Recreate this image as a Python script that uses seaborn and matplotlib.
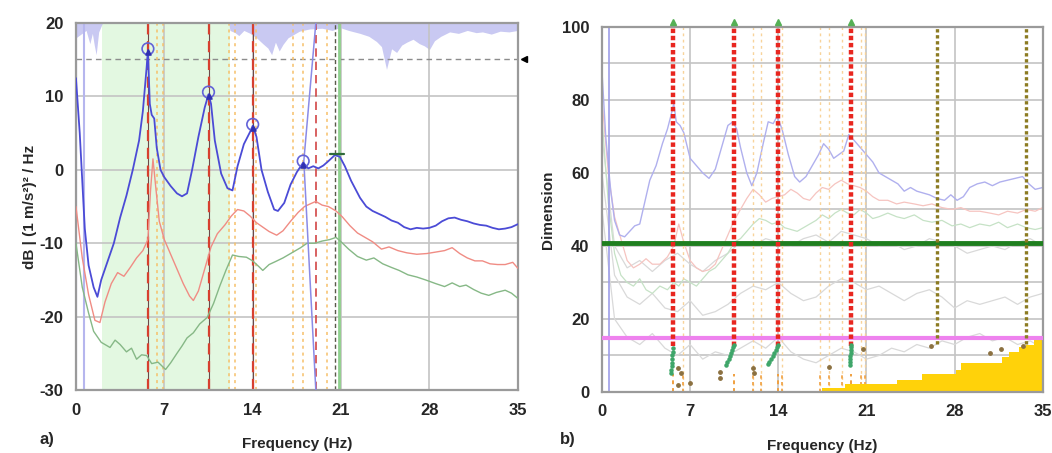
import numpy                 as np
import pandas                as pd
import seaborn               as sns
import matplotlib.pyplot     as plt


# ---------------- panel a) spectra (dB) ----------------
blue_a_freq = [0.0, 0.3, 0.7, 1.0, 1.4, 1.7, 2.0, 2.5, 3.0, 3.5, 4.0, 4.5, 5.0, 5.3, 5.6, 5.7,
               5.85, 6.0, 6.2, 6.4, 6.7, 7.0, 7.5, 8.0, 8.4, 8.8, 9.2, 9.7, 10.2, 10.5, 10.7,
               11.0, 11.5, 12.0, 12.4, 12.8, 13.3, 13.8, 14.0, 14.3, 14.7, 15.2, 15.7, 16.0,
               16.5, 17.0, 17.5, 18.0, 18.4, 18.8, 19.2, 19.6, 20.0, 20.5, 20.9, 21.3, 21.8,
               22.5, 23.0, 23.5, 24.0, 24.5, 25.0, 25.5, 26.0, 26.5, 27.0, 27.5, 28.0, 28.5,
               29.0, 29.5, 30.0, 30.5, 31.0, 31.5, 32.0, 32.5, 33.0, 33.5, 34.0, 34.5, 35.0]
blue_a_db   = [12.5, 5.0, -8.0, -13.0, -16.0, -17.3, -15.0, -12.5, -10.0, -6.5, -3.5, 0.0, 4.0,
               8.0, 14.0, 16.3, 9.0, 7.5, 7.0, 3.0, 0.0, -1.0, -2.2, -3.2, -3.6, -3.2, 0.0, 4.5,
               8.5, 10.3, 9.0, 4.0, -0.5, -2.5, -2.8, 0.5, 3.5, 5.2, 6.0, 4.5, 0.0, -3.0, -5.4,
               -5.6, -4.5, -2.0, -0.3, 1.0, 0.2, 0.5, 0.2, 0.6, 1.2, 2.0, 1.8, 0.5, -1.5, -3.8,
               -5.0, -5.6, -6.0, -6.4, -6.9, -7.2, -7.8, -8.1, -7.9, -8.0, -7.9, -7.6, -7.0,
               -6.6, -6.5, -6.8, -7.0, -7.3, -7.5, -7.6, -7.9, -8.1, -8.0, -7.8, -7.4]

red_a_freq  = [0.0, 0.5, 1.0, 1.5, 1.9, 2.3, 2.8, 3.3, 3.8, 4.3, 4.8, 5.3, 5.7, 5.9, 6.1, 6.3,
               6.6, 7.0, 7.5, 8.0, 8.5, 9.0, 9.3, 9.7, 10.2, 10.7, 11.2, 11.8, 12.3, 12.8, 13.3,
               13.8, 14.3, 14.8, 15.3, 15.9, 16.4, 17.0, 17.6, 18.1, 18.6, 19.0, 19.5, 20.0,
               20.6, 21.1, 21.7, 22.3, 22.9, 23.5, 24.2, 24.8, 25.5, 26.2, 27.0, 27.8, 28.5,
               29.2, 29.8, 30.4, 31.0, 31.6, 32.2, 32.8, 33.4, 34.0, 34.6, 35.0]
red_a_db    = [-5.0, -12.0, -17.0, -20.5, -20.8, -18.0, -15.5, -14.0, -14.5, -13.3, -12.0,
               -11.0, -9.5, -3.0, 1.5, -2.0, -7.0, -9.5, -11.5, -13.5, -15.5, -17.2, -17.8,
               -16.5, -13.5, -10.5, -8.7, -7.5, -6.3, -5.4, -5.6, -6.3, -7.2, -7.8, -8.4, -8.9,
               -8.3, -7.0, -5.8, -5.0, -4.6, -4.3, -4.8, -5.0, -5.6, -6.4, -7.6, -8.6, -9.2,
               -9.8, -10.8, -10.5, -11.0, -11.3, -11.5, -11.4, -11.2, -11.0, -10.6, -11.4,
               -12.0, -12.4, -12.4, -12.8, -12.9, -12.9, -12.6, -13.4]

green_a_freq = [0.0, 0.5, 1.0, 1.4, 2.0, 2.7, 3.1, 3.5, 4.0, 4.4, 4.8, 5.2, 5.6, 6.0, 6.5, 7.1,
                7.5, 8.0, 8.4, 8.8, 9.3, 9.8, 10.4, 10.9, 11.4, 11.9, 12.4, 12.9, 13.5, 14.0,
                14.5, 14.8, 15.3, 15.8, 16.4, 17.2, 17.8, 18.3, 18.9, 19.5, 20.1, 20.6, 21.0,
                21.6, 22.3, 23.0, 23.6, 24.3, 25.0, 25.6, 26.3, 27.0, 27.7, 28.5, 29.2, 29.8,
                30.4, 30.9, 31.5, 32.1, 32.7, 33.3, 34.0, 34.5, 35.0]
green_a_db   = [-10.0, -16.0, -19.5, -22.0, -23.5, -24.2, -23.2, -23.8, -24.8, -24.3, -25.8,
                -25.2, -25.3, -26.4, -26.2, -27.2, -26.3, -25.0, -24.0, -22.9, -22.2, -21.0,
                -20.1, -18.2, -15.8, -13.6, -11.6, -11.8, -11.9, -12.4, -13.2, -13.7, -12.9,
                -12.5, -12.0, -11.2, -10.6, -10.0, -10.0, -9.7, -9.5, -9.2, -9.8, -10.8, -11.8,
                -12.3, -12.0, -12.8, -13.3, -13.7, -14.3, -14.6, -15.0, -15.5, -15.9, -15.4,
                -15.9, -15.7, -16.3, -16.8, -17.1, -16.7, -16.4, -16.8, -17.5]

# lavender band hanging from the top edge
top_freq = [0.0, 0.8, 1.1, 1.3, 1.45, 1.6, 1.8, 2.1, 12.1, 12.2, 12.6, 12.9, 13.3, 13.8, 14.3,
            14.8, 15.2, 15.5, 15.8, 16.1, 16.4, 16.8, 17.2, 17.7, 18.5, 19.5, 20.3, 20.9, 21.6,
            22.5, 23.2, 23.8, 24.2, 24.6, 25.0, 25.4, 25.8, 26.2, 26.7, 27.2, 27.6, 28.0, 28.4,
            28.9, 29.6, 30.3, 31.0, 31.7, 32.2, 32.9, 33.6, 34.3, 35.0]
top_db   = [18.0, 19.0, 17.2, 18.6, 17.0, 15.7, 18.8, 20.0, 20.0, 19.0, 18.7, 18.3, 19.0, 18.6,
            18.0, 17.2, 16.6, 15.7, 17.4, 16.2, 17.1, 18.0, 18.4, 18.9, 19.2, 19.3, 19.0, 19.4,
            19.0, 18.6, 18.2, 17.5, 16.8, 13.7, 16.5, 16.0, 17.0, 17.4, 17.8, 17.2, 16.9, 16.4,
            17.6, 18.2, 18.8, 18.6, 19.0, 18.7, 18.8, 18.5, 18.9, 18.8, 19.0]

peak_freq  = [5.7, 10.5, 14.0, 18.0]
peak_db    = [16.5, 10.6, 6.2, 1.2]
mode_lines_a   = [5.7, 10.5, 14.0]
orange_lines_a = [6.4, 6.9, 12.1, 12.6, 14.3, 17.2, 18.0, 19.9, 20.9]
green_band     = (2.1, 12.2)
threshold_db   = 15.1

# ---------------- panel b) stabilisation diagram ----------------
blue_b_freq = [0.0, 0.3, 0.7, 1.0, 1.4, 1.8, 2.2, 2.6, 3.0, 3.4, 3.8, 4.3, 4.8, 5.2, 5.5, 5.7,
               5.9, 6.2, 6.5, 7.0, 7.5, 8.0, 8.5, 9.0, 9.5, 10.0, 10.4, 10.7, 11.0, 11.5, 11.9,
               12.3, 12.8, 13.2, 13.6, 13.9, 14.3, 14.8, 15.3, 15.7, 16.2, 16.7, 17.2, 17.6,
               18.0, 18.4, 18.8, 19.2, 19.6, 20.0, 20.5, 21.0, 21.5, 22.0, 22.5, 23.0, 23.5,
               24.0, 24.5, 25.0, 25.5, 26.0, 26.6, 27.2, 27.7, 28.2, 28.7, 29.2, 29.8, 30.4,
               31.0, 31.6, 32.2, 32.8, 33.4, 33.9, 34.4, 35.0]
blue_b_dim  = [88, 70, 55, 47, 43, 42.5, 44, 45.5, 46, 52, 58, 62, 68, 72, 76, 79, 74, 73, 71,
               64, 62, 60, 58.5, 61, 67, 73, 74, 72, 67, 60, 56.5, 60, 68, 74, 73.5, 75.5, 72,
               65, 59, 57.5, 59, 62, 65, 68, 66.5, 64, 65, 66, 70.5, 69, 67, 65, 63, 60, 59, 58,
               57, 55, 56, 55, 54.5, 54, 53, 52.5, 54, 52.5, 53.5, 56, 57, 57.5, 56.5, 57.5, 58,
               58.5, 59, 57, 55.5, 56]

fb_freq   = [0.0, 0.5, 1.0, 1.5, 2.0, 2.5, 3.0, 3.5, 4.0, 4.6, 5.2, 5.7, 6.1, 6.5, 7.0, 7.5,
             8.0, 8.5, 9.0, 9.5, 10.0, 10.5, 11.0, 11.5, 12.0, 12.5, 13.0, 13.5, 14.0, 14.5,
             15.0, 15.5, 16.0, 16.5, 17.0, 17.5, 18.0, 18.5, 19.0, 19.5, 20.0, 20.5, 21.0,
             21.5, 22.0, 22.7, 23.4, 24.0, 24.8, 25.5, 26.2, 27.0, 27.8, 28.5, 29.2, 30.0,
             30.8, 31.5, 32.2, 33.0, 33.7, 34.4, 35.0]
red_b_dim   = [80, 60, 48, 42, 36, 34, 35, 36.5, 35, 35, 37, 40, 46, 41, 36, 34, 33, 33.5, 35,
               39, 43, 47, 50, 53, 55.5, 54, 52, 53, 53.5, 54, 55.5, 54.5, 53, 52.5, 54.5, 56,
               55.5, 57, 58, 57, 56.5, 56, 55, 53.5, 52.5, 52.5, 51.5, 52, 51.5, 51, 51.5, 50.5,
               50, 50.5, 49.5, 49.5, 49, 48.5, 49.5, 49, 50, 49.5, 50.5]
green_b_dim = [75, 52, 38, 32, 30, 29, 31, 28, 27, 29, 28, 30, 29, 31, 30, 29, 31, 33, 34, 36,
               38, 41, 42, 44, 46, 47.5, 47, 46, 46.5, 45, 44.5, 44, 45, 46, 47, 48.5, 47.5, 49,
               50, 49, 48.5, 50, 49, 47.5, 48, 49, 48, 47.5, 48.5, 47, 46.5, 47, 45.5, 46, 45,
               46, 45.5, 46.5, 45, 46, 45, 44.5, 45]

grey_freq = [0, 1, 2, 3, 4, 5, 6, 7, 8, 9, 10, 11, 12, 13, 14, 15, 16, 17, 18, 19, 20, 21, 22,
             23, 24, 25, 26, 27, 28, 29, 30, 31, 32, 33, 34, 35]
grey1_dim = [70, 40, 34, 36, 33, 36, 38, 35, 33, 36, 38, 41, 40, 42, 41, 40, 42, 43, 41, 44,
             43, 42, 40, 41, 39, 40, 42, 41, 40, 38, 39, 40, 39, 41, 42, 40]
grey2_dim = [60, 32, 26, 24, 27, 23, 22, 25, 21, 22, 24, 27, 29, 28, 30, 27, 25, 26, 29, 31,
             30, 28, 29, 27, 25, 27, 28, 26, 23, 25, 24, 25, 26, 24, 26, 27]
grey3_dim = [50, 20, 15, 13, 16, 12, 10, 13, 9, 11, 10, 12, 14, 12, 15, 11, 9, 8, 10, 12, 11,
             9, 10, 12, 11, 13, 12, 14, 13, 15, 16, 14, 15, 13, 14, 12]

stable_freq    = [5.63, 10.46, 14.0, 19.8]
olive_freq     = [26.6, 33.7]
orange_lines_b = [6.4, 12.0, 12.6, 14.3, 17.3, 18.0, 19.1, 20.6, 20.9]
green_dim_line   = 40.8
magenta_dim_line = 14.7

trail_x = [5.63, 5.61, 5.60, 5.58, 5.56, 5.54, 5.52, 5.50,
           10.46, 10.40, 10.33, 10.25, 10.15, 10.05, 9.95, 9.85,
           14.0, 13.9, 13.8, 13.68, 13.55, 13.42, 13.3, 13.15,
           19.8, 19.78, 19.76, 19.74, 19.72, 19.70, 19.68, 19.66]
trail_y = [12.0, 11.0, 10.0, 9.0, 8.0, 7.0, 6.0, 5.2,
           13.0, 12.2, 11.4, 10.6, 9.8, 9.0, 8.2, 7.4,
           13.0, 12.2, 11.4, 10.6, 9.8, 9.0, 8.2, 7.7,
           13.0, 12.2, 11.4, 10.6, 9.8, 9.0, 8.2, 7.4]

dots_x = [6.0, 6.3, 6.0, 7.0, 9.4, 9.4, 12.0, 12.1, 18.0, 20.7, 26.1, 30.8, 31.7, 33.4]
dots_y = [6.5, 5.2, 1.9, 2.5, 5.5, 3.8, 6.6, 5.2, 6.9, 11.8, 12.6, 10.6, 11.8, 12.6]

gold_freq  = [17.5, 19.3, 23.4, 25.4, 28.1, 28.5, 31.8, 32.3, 33.1, 33.7, 34.3, 35.0]
gold_level = [1.0, 2.2, 3.2, 4.9, 6.0, 7.9, 9.6, 11.0, 12.3, 13.0, 14.2, 14.5]

freq_ticks = [0, 7, 14, 21, 28, 35]


sns.set_theme(style="white")
plt.rcParams['font.family'] = ['Liberation Sans', 'DejaVu Sans']
plt.rcParams['axes.unicode_minus'] = False

fig = plt.figure(figsize=(10.52, 4.53), dpi=100)
ax_a = fig.add_axes([0.0722, 0.139, 0.420, 0.810])
ax_b = fig.add_axes([0.5722, 0.1347, 0.419, 0.806])

GRID = '#c4c4c4'


def style_axes(ax):
    for s in ax.spines.values():
        s.set_color('#9a9a9a')
        s.set_linewidth(1.6)
    ax.tick_params(length=0, labelsize=12, pad=9)
    for lab in ax.get_xticklabels() + ax.get_yticklabels():
        lab.set_fontweight('bold')
    ax.set_xlabel('Frequency (Hz)', fontsize=11, fontweight='bold', labelpad=14)
    ax.set_axisbelow(True)


# ================= a) =================
ax = ax_a
ax.set_xlim(0, 35)
ax.set_ylim(-30, 20)
ax.axvspan(*green_band, color='#e3f8e1', zorder=0, lw=0)
ax.fill_between(top_freq, top_db, 20, color='#c9c9f2', lw=0, zorder=0.6)
for v in [7, 14, 21, 28]:
    ax.axvline(v, color=GRID, lw=1.2, zorder=0.7)
for h in [10, 0, -10, -20]:
    ax.axhline(h, color=GRID, lw=1.2, zorder=0.7)

ax.axhline(threshold_db, color='#8c8c8c', lw=1, ls=(0, (4, 3)), zorder=1)
ax.plot(35.5, threshold_db, marker='<', color='black', ms=5, clip_on=False)

for f in orange_lines_a:
    ax.axvline(f, color='#f6c06a', lw=1.1, ls=(0, (2, 2.5)), zorder=1)
ax.axvline(0.0, color='#8f8fd8', lw=1.5, zorder=1.5)
ax.axvline(0.6, color='#b6b6ee', lw=1.5, zorder=1.5)
for f in mode_lines_a:
    ax.axvline(f, color='#6b4a4a', lw=0.8, zorder=2)
    ax.axvline(f, color='#d7402f', lw=1.6, ls=(0, (5, 3)), zorder=2.1)
ax.axvline(19.0, color='#d24646', lw=1.2, ls=(0, (5, 3)), zorder=2)
ax.axvline(20.55, color='#5a5a4a', lw=1.0, ls=(0, (3, 2)), zorder=2)
ax.axvline(20.85, color='#8fd08f', lw=2.0, zorder=2)

sns.lineplot(x=green_a_freq, y=green_a_db, ax=ax, color='#86b886', lw=1.0, zorder=3)
sns.lineplot(x=red_a_freq, y=red_a_db, ax=ax, color='#f08c84', lw=1.0, zorder=3)
sns.lineplot(x=blue_a_freq, y=blue_a_db, ax=ax, color='#4b4bd6', lw=1.3, zorder=4)
ax.plot([19.0, 18.05, 19.0], [20, 1.2, -30], color='#8a8ae6', lw=1.1, zorder=3.5)

ax.scatter(peak_freq, peak_db, s=70, facecolors='none', edgecolors='#6262d8', lw=1.2, zorder=5)
ax.scatter(peak_freq, [p - 0.5 for p in peak_db], s=14, marker='^', color='#3030b0', zorder=5)
ax.plot([20.1, 21.2], [2.1, 2.1], color='#2f6b3a', lw=1.6, zorder=5)

ax.set_xticks(freq_ticks)
ax.set_yticks([-30, -20, -10, 0, 10, 20])
ax.set_ylabel('dB | (1 m/s²)² / Hz', fontsize=11, fontweight='bold', labelpad=2)
style_axes(ax)

# ================= b) =================
ax = ax_b
ax.set_xlim(0, 35)
ax.set_ylim(0, 100)
for v in [7, 14, 21, 28]:
    ax.axvline(v, color=GRID, lw=1.2, zorder=0.7)
for h in range(10, 100, 10):
    ax.axhline(h, color=GRID, lw=1.2, zorder=0.7)

for g in [grey1_dim, grey2_dim, grey3_dim]:
    sns.lineplot(x=grey_freq, y=g, ax=ax, color='#d9d9d9', lw=0.9, zorder=1)
sns.lineplot(x=fb_freq, y=green_b_dim, ax=ax, color='#c6e2c6', lw=0.9, zorder=1.2)
sns.lineplot(x=fb_freq, y=red_b_dim, ax=ax, color='#f6c4c0', lw=0.9, zorder=1.2)
sns.lineplot(x=blue_b_freq, y=blue_b_dim, ax=ax, color='#b0b0ee', lw=1.0, zorder=1.3)
ax.axvline(0.55, color='#9d9de8', lw=1.2, zorder=1.3)

for f in orange_lines_b:
    ax.axvline(f, color='#f8d39a', lw=1.0, ls=(0, (2, 2.5)), zorder=1.4)
    ax.vlines(f, 0, 5, color='#f0a040', lw=1.2, ls=(0, (2, 2)), zorder=1.5)
for f in stable_freq:
    ax.vlines(f, 0, 5, color='#f0a040', lw=1.4, ls=(0, (2, 2)), zorder=1.5)

gold_df = pd.DataFrame({'freq': gold_freq, 'level': gold_level})
ax.fill_between(gold_df['freq'], 0, gold_df['level'], step='post', color='#ffd20a', lw=0, zorder=2)

ax.axhline(green_dim_line, color='#1f7f1f', lw=3.5, zorder=3)
ax.axhline(magenta_dim_line, color='#ee82ee', lw=3.0, zorder=3)

ax.vlines(stable_freq, 12.5, 100, color='#e8261f', lw=3.2, ls=(0, (1, 0.6)), zorder=4)
ax.vlines(olive_freq, 13.2, 100, color='#8c7b22', lw=2.4, ls=(0, (1, 0.8)), zorder=4)
ax.plot(stable_freq, [101.2] * len(stable_freq), ls='none', marker='^', ms=4,
        color='#55b055', clip_on=False, zorder=5)
ax.scatter(trail_x, trail_y, s=5, color='#3fa66a', zorder=5)
ax.scatter(dots_x, dots_y, s=6, color='#8b7040', zorder=5)

ax.set_xticks(freq_ticks)
ax.set_yticks([0, 20, 40, 60, 80, 100])
ax.set_ylabel('Dimension', fontsize=11, fontweight='bold', labelpad=5)
style_axes(ax)

fig.text(0.038, 0.02, 'a)', fontsize=12, fontweight='bold')
fig.text(0.532, 0.02, 'b)', fontsize=12, fontweight='bold')

fig.savefig('out.png', dpi=100)
